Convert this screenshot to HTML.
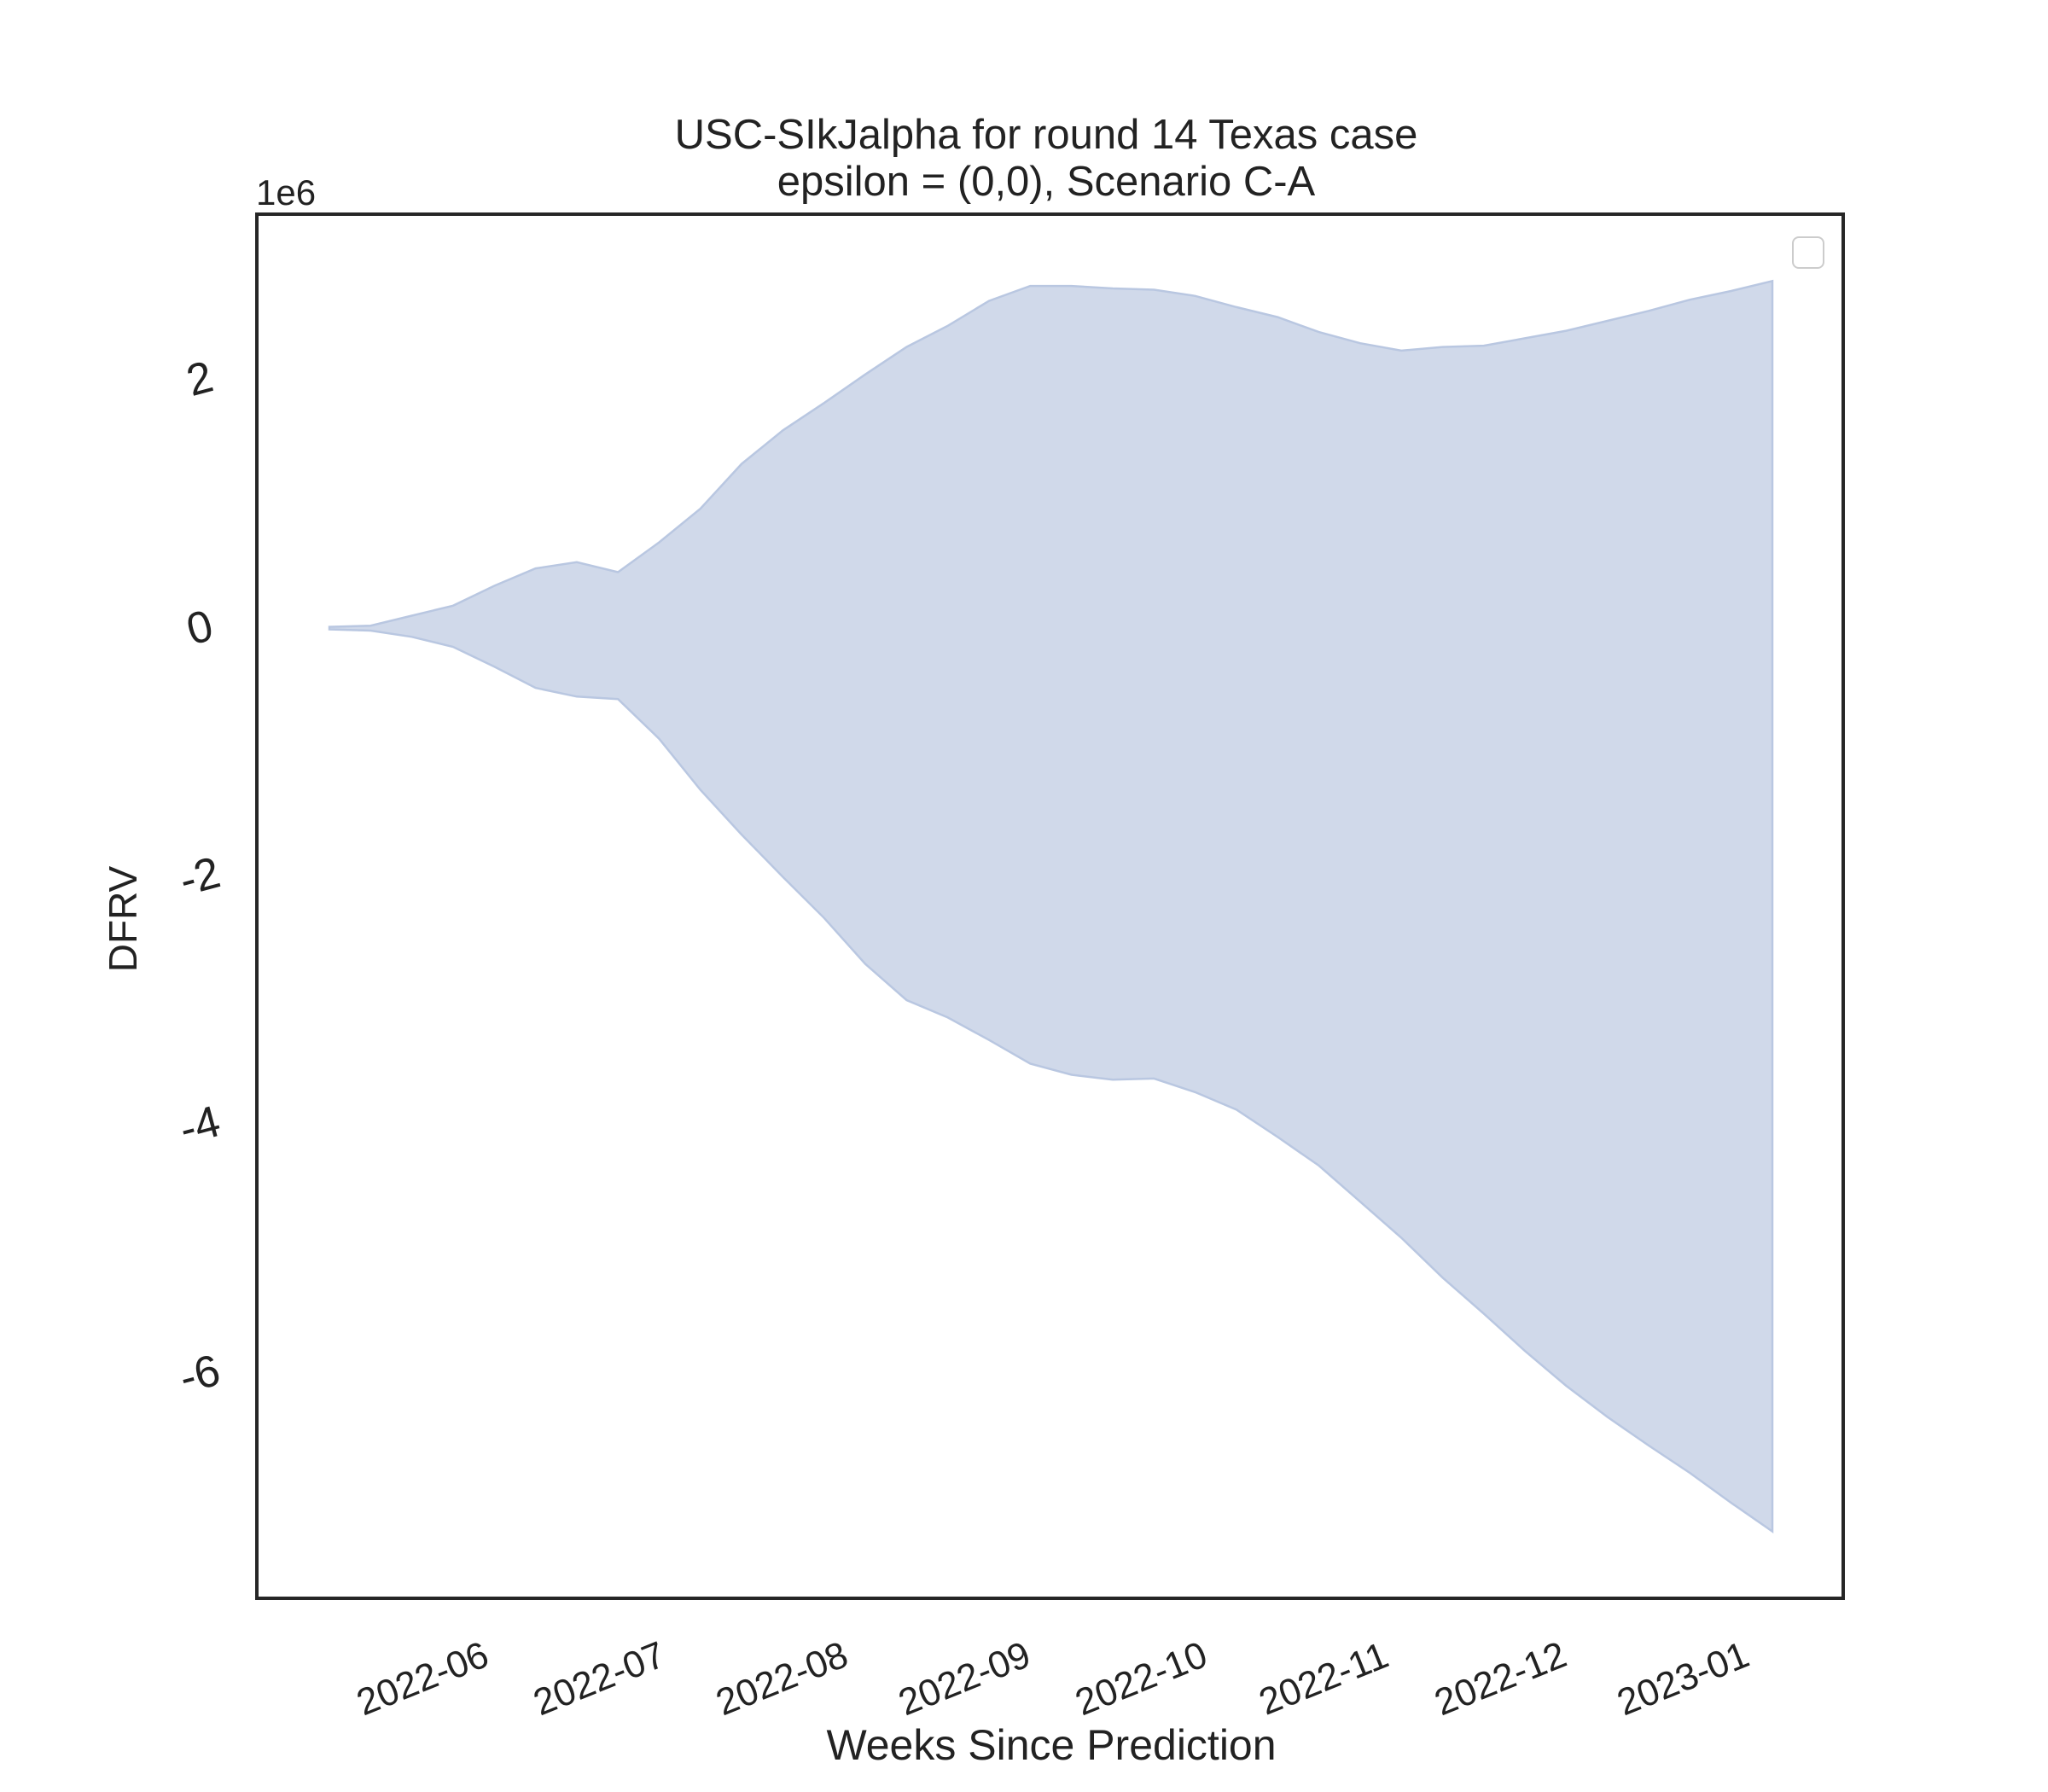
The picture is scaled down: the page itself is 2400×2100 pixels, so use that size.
<!DOCTYPE html>
<html><head><meta charset="utf-8">
<style>
html,body{margin:0;padding:0;background:#fff;}
svg{display:block;font-family:"Liberation Sans",sans-serif;}
</style></head>
<body>
<svg id="chart" width="2400" height="2100" viewBox="0 0 2400 2100" xmlns="http://www.w3.org/2000/svg">
<rect width="2400" height="2100" fill="#fff"/>
<text x="1226" y="174" font-size="49" text-anchor="middle" fill="#222">USC-SIkJalpha for round 14 Texas case</text>
<text x="1226" y="229" font-size="49" text-anchor="middle" fill="#222">epsilon = (0,0), Scenario C-A</text>
<text x="300" y="240" font-size="42" fill="#222">1e6</text>
<text transform="translate(160,1077) rotate(-90)" font-size="46" text-anchor="middle" fill="#222">DFRV</text>
<text x="1232" y="2062" font-size="50" text-anchor="middle" fill="#222">Weeks Since Prediction</text>
<g id="plot"></g>
<rect x="301" y="251" width="1859" height="1622" fill="none" stroke="#262626" stroke-width="4"/>
<rect x="2101" y="278" width="36" height="36" rx="7" fill="#fff" stroke="#ccc" stroke-width="2"/>
</svg>
<script>
const startDate = "2022-05-16";
const upperValues = [0.03,0.04,0.12,0.2,0.36,0.5,0.55,0.47,0.71,0.98,1.34,1.61,1.83,2.06,2.28,2.45,2.65,2.77,2.77,2.75,2.74,2.69,2.6,2.52,2.4,2.31,2.25,2.28,2.29,2.35,2.41,2.49,2.57,2.66,2.73,2.81];
const lowerValues = [0.01,0,-0.05,-0.13,-0.29,-0.46,-0.53,-0.55,-0.87,-1.28,-1.64,-1.98,-2.31,-2.68,-2.97,-3.11,-3.29,-3.48,-3.57,-3.61,-3.6,-3.71,-3.85,-4.07,-4.3,-4.59,-4.88,-5.2,-5.49,-5.79,-6.07,-6.32,-6.55,-6.77,-7.01,-7.24];
const xTickLabels = ["2022-06","2022-07","2022-08","2022-09","2022-10","2022-11","2022-12","2023-01"];
const yTickValues = [2,0,-2,-4,-6];

const NS="http://www.w3.org/2000/svg";
const plot=document.getElementById('plot');
const DAY=86400000;
const t0=Date.parse(startDate+"T00:00:00Z");
const pxPerDay=(2077-386)/(35*7);
function xDays(d){return 386+d*pxPerDay;}
function xIndex(i){return xDays(i*7);}
function y(v){return 739-v*145.8;}

let pts=[];
for(let i=0;i<upperValues.length;i++)pts.push(xIndex(i).toFixed(1)+","+y(upperValues[i]).toFixed(1));
for(let i=lowerValues.length-1;i>=0;i--)pts.push(xIndex(i).toFixed(1)+","+y(lowerValues[i]).toFixed(1));
const band=document.createElementNS(NS,'polygon');
band.setAttribute('points',pts.join(' '));
band.setAttribute('fill','#d0d9ea');
band.setAttribute('stroke','#b9c7e1');
band.setAttribute('stroke-width','2.5');


plot.appendChild(band);

const svg=document.getElementById('chart');
xTickLabels.forEach(lbl=>{
  const d=(Date.parse(lbl+"-01T00:00:00Z")-t0)/DAY;
  const cx=xDays(d);
  const t=document.createElementNS(NS,'text');
  t.setAttribute('transform','translate('+cx.toFixed(1)+',1970) rotate(-22)');
  t.setAttribute('font-size','44');
  t.setAttribute('text-anchor','middle');
  t.setAttribute('dominant-baseline','middle');
  t.setAttribute('fill','#222');
  t.textContent=lbl;
  
  
  svg.appendChild(t);
});
yTickValues.forEach(v=>{
  const t=document.createElementNS(NS,'text');
  t.setAttribute('transform','translate(235,'+y(v).toFixed(1)+') rotate(-15)');
  t.setAttribute('font-size','52');
  t.setAttribute('text-anchor','middle');
  t.setAttribute('dominant-baseline','middle');
  t.setAttribute('fill','#222');
  t.textContent=v<0?'-'+Math.abs(v):String(v);
  
  
  svg.appendChild(t);
});
</script>
</body></html>
